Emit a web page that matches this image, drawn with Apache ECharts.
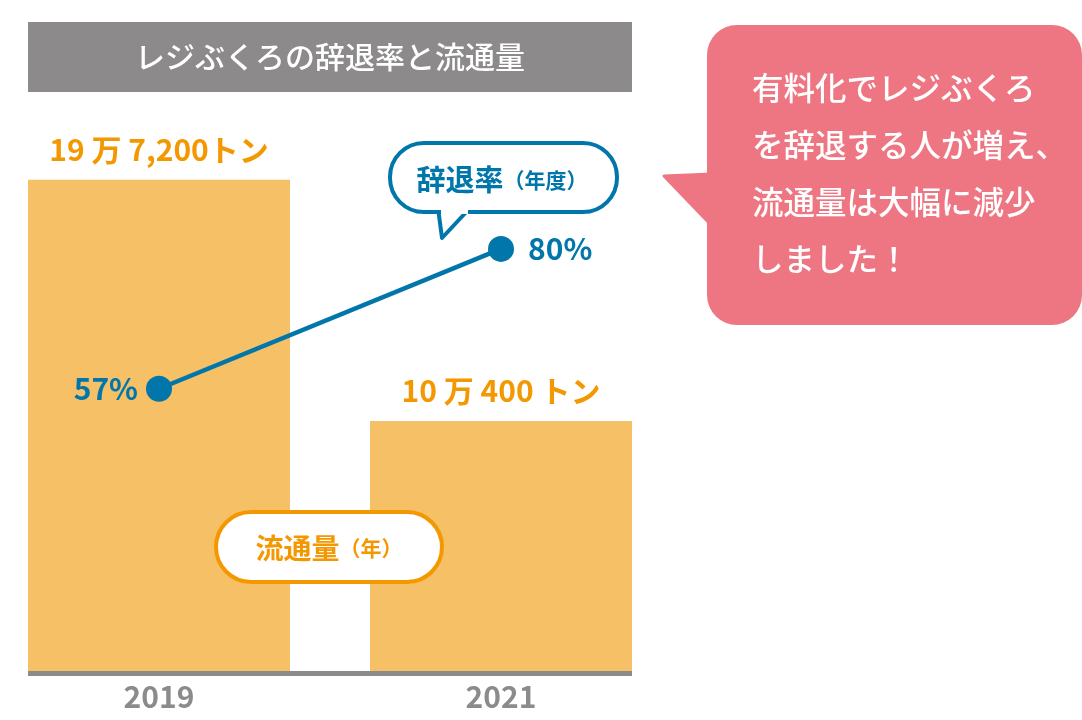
<!DOCTYPE html>
<html>
<head>
<meta charset="utf-8">
<script src="https://cdn.jsdelivr.net/npm/echarts@6/dist/echarts.min.js"></script>
<style>
    html, body { margin: 0; padding: 0; background: #fff; }
    #main { width: 1082px; height: 720px; }
</style>
</head>
<body>
<div id="main"></div>
<script>
// データ
var years = ['2019', '2021'];
var volume = [19.72, 10.04];                          // 流通量(万トン)
var volumeLabels = ['19 万 7,200トン', '10 万 400 トン'];
var declineRate = [57, 80];                           // 辞退率(%)

var FONT = '"Noto Sans CJK JP", "Noto Sans", sans-serif';
var ORANGE = '#f39800';
var BLUE = '#0076aa';
var GRAY = '#8c8a8b';

var myChart = echarts.init(document.getElementById('main'));
var option = {
    animation: false,
    textStyle: { fontFamily: FONT },
    grid: {
        left: -12,
        right: 410,
        top: 123,
        bottom: 49,
        outerBoundsMode: 'none',
        containLabel: false
    },
    xAxis: {
        type: 'category',
        data: years,
        axisLine: { show: false },
        axisTick: { show: false },
        axisLabel: {
            color: GRAY,
            fontSize: 30,
            fontWeight: 'bold',
            margin: 11
        }
    },
    yAxis: [{
        type: 'value',
        min: 0,
        max: 22,
        show: false
    }, {
        type: 'value',
        min: 10.6,
        max: 100.7,
        show: false
    }],
    graphic: [
        // タイトル帯
        {
            type: 'rect', z: 100,
            shape: { x: 28, y: 22, width: 604, height: 70 },
            style: { fill: GRAY }
        },
        {
            type: 'text', z: 101, x: 330, y: 57,
            style: {
                text: 'レジぶくろの辞退率と流通量',
                fill: '#fff', font: '500 30px ' + FONT,
                align: 'center', verticalAlign: 'middle'
            }
        },
        // 横軸の線
        {
            type: 'rect', z: 100,
            shape: { x: 28, y: 671, width: 604, height: 5 },
            style: { fill: GRAY }
        },
        // 辞退率の吹き出し
        {
            type: 'polygon', z: 100,
            shape: { points: [[438, 208], [442, 238], [470, 208]] },
            style: { fill: '#fff', stroke: BLUE, lineWidth: 4, lineJoin: 'round' }
        },
        {
            type: 'rect', z: 101,
            shape: { x: 390, y: 143, width: 227, height: 69, r: 34 },
            style: { fill: '#fff', stroke: BLUE, lineWidth: 4 }
        },
        {
            type: 'rect', z: 102,
            shape: { x: 441, y: 206, width: 27, height: 8 },
            style: { fill: '#fff' }
        },
        {
            type: 'text', z: 103, x: 502, y: 180,
            style: {
                text: '{a|辞退率}{b|（年度）}',
                align: 'center', verticalAlign: 'middle',
                rich: {
                    a: { fill: BLUE, font: 'bold 29px ' + FONT },
                    b: { fill: BLUE, font: 'bold 21px ' + FONT }
                }
            }
        },
        // 流通量のラベル
        {
            type: 'rect', z: 100,
            shape: { x: 216, y: 512, width: 226, height: 70, r: 35 },
            style: { fill: '#fff', stroke: ORANGE, lineWidth: 4 }
        },
        {
            type: 'text', z: 101, x: 329, y: 548,
            style: {
                text: '{a|流通量}{b|（年）}',
                align: 'center', verticalAlign: 'middle',
                rich: {
                    a: { fill: ORANGE, font: 'bold 28px ' + FONT },
                    b: { fill: ORANGE, font: 'bold 21px ' + FONT }
                }
            }
        },
        // ピンクの吹き出し
        {
            type: 'polygon', z: 100,
            shape: { points: [[712, 174], [664, 176], [712, 226]] },
            style: { fill: '#ee7683', stroke: '#ee7683', lineWidth: 3, lineJoin: 'round' }
        },
        {
            type: 'rect', z: 100,
            shape: { x: 707, y: 25, width: 375, height: 300, r: 30 },
            style: { fill: '#ee7683' }
        },
        {
            type: 'text', z: 101, x: 752, y: 60,
            style: {
                text: '有料化でレジぶくろ\nを辞退する人が増え、\n流通量は大幅に減少\nしました！',
                fill: '#fff', font: '500 31.5px ' + FONT,
                lineHeight: 57
            }
        }
    ],
    series: [{
        name: '流通量',
        type: 'bar',
        data: volume,
        barWidth: 262,
        itemStyle: { color: '#f6c066' },
        label: {
            show: true,
            position: 'top',
            distance: 15,
            color: ORANGE,
            fontSize: 30,
            fontWeight: 'bold',
            formatter: function (p) { return volumeLabels[p.dataIndex]; }
        }
    }, {
        name: '辞退率',
        type: 'line',
        yAxisIndex: 1,
        z: 5,
        // 80% のラベルは右側
        data: declineRate.map(function (v, i) {
            return {
                value: v,
                label: i === 1 ? { position: 'right', distance: 14 } : {}
            };
        }),
        symbol: 'circle',
        symbolSize: 26,
        itemStyle: { color: BLUE },
        lineStyle: { color: BLUE, width: 4.5 },
        label: {
            show: true,
            color: BLUE,
            fontSize: 30,
            fontWeight: 'bold',
            formatter: '{c}%',
            position: 'left',
            distance: 8
        }
    }]
};
myChart.setOption(option);
</script>
</body>
</html>
